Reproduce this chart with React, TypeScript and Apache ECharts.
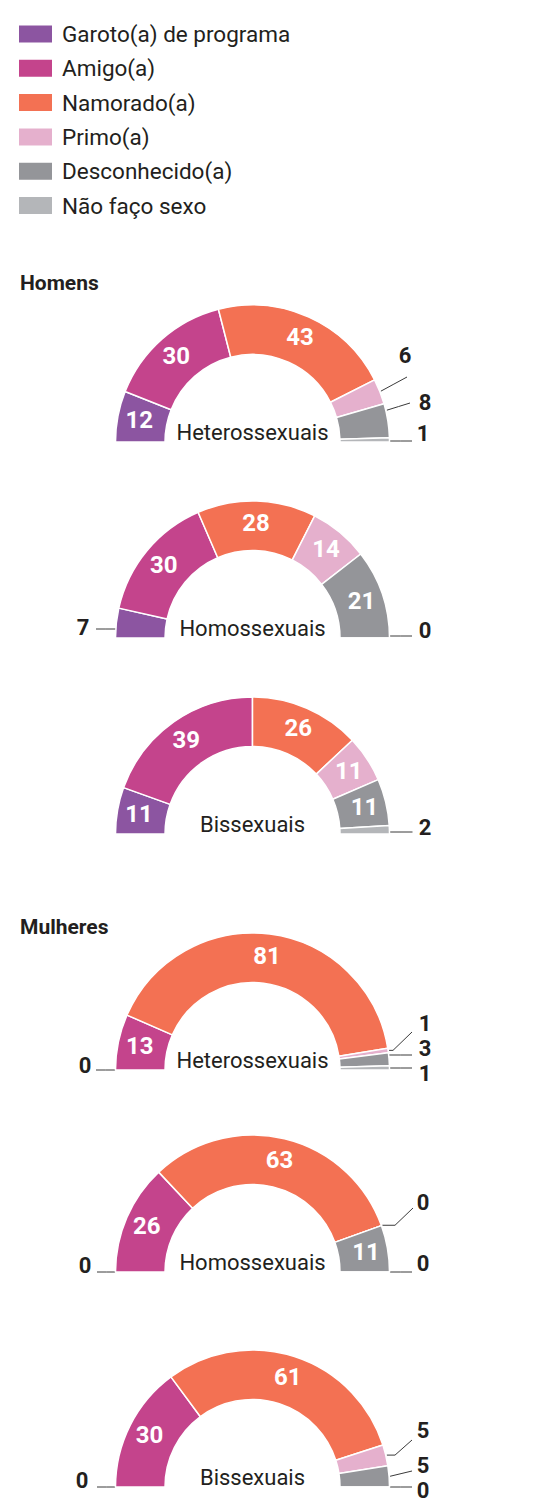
import React, { useEffect, useRef } from "react";
import * as echarts from "echarts";

// ---------- data ----------
const categories = [
  "Garoto(a) de programa",
  "Amigo(a)",
  "Namorado(a)",
  "Primo(a)",
  "Desconhecido(a)",
  "Não faço sexo",
];
const groupTitles = ["Homens", "Mulheres"];
const orientationLabels = ["Heterossexuais", "Homossexuais", "Bissexuais"];

const menHetero = [12, 30, 43, 6, 8, 1];
const menHomo = [7, 30, 28, 14, 21, 0];
const menBi = [11, 39, 26, 11, 11, 2];
const womenHetero = [0, 13, 81, 1, 3, 1];
const womenHomo = [0, 26, 63, 0, 11, 0];
const womenBi = [0, 30, 61, 5, 5, 0];

const chartValues = [menHetero, menHomo, menBi, womenHetero, womenHomo, womenBi];
const chartOrientation = [0, 1, 2, 0, 1, 2];

// ---------- styles / layout ----------
const colors = ["#8C55A1", "#C4448C", "#F37153", "#E5B0CD", "#949599", "#B4B6B9"];
const INK = "#231f20";
const FONT = "Roboto, 'Noto Sans', sans-serif";
const W = 546;
const H = 1507;
const CX = 252.5;
const R_OUT = 137;
const R_IN = 87.5;
const baselines = [442, 638, 834, 1070, 1272, 1487];
const titleY = [283, 926.5];
const INSIDE_MIN = 10;

type Lay = { kind: "h" | "d"; lx: number; ly: number; ex: number; ey: number; kx?: number; at?: number };
const outsideLayout: Record<number, Lay>[] = [
  {
    3: { kind: "d", lx: 152.5, ly: -87, ex: 154.5, ey: -65 },
    4: { kind: "d", lx: 172.5, ly: -40, ex: 157.5, ey: -39, at: 0.2 },
    5: { kind: "h", lx: 170.5, ly: -9, ex: 159.5, ey: -1 },
  },
  {
    0: { kind: "h", lx: -169.5, ly: -11, ex: -156.5, ey: -9 },
    5: { kind: "h", lx: 172.5, ly: -8, ex: 159.5, ey: -2 },
  },
  {
    5: { kind: "h", lx: 172.5, ly: -7, ex: 160, ey: -2 },
  },
  {
    0: { kind: "h", lx: -167.5, ly: -5, ex: -156.5, ey: 0 },
    3: { kind: "d", lx: 172.5, ly: -47, ex: 159.5, ey: -38, kx: 140.5 },
    4: { kind: "h", lx: 172.5, ly: -22, ex: 159.5, ey: -15 },
    5: { kind: "h", lx: 172.5, ly: 3, ex: 159.5, ey: -2 },
  },
  {
    0: { kind: "h", lx: -167.5, ly: -7, ex: -155.5, ey: 0 },
    3: { kind: "d", lx: 170.5, ly: -70, ex: 160.5, ey: -64, kx: 142.5 },
    5: { kind: "h", lx: 170.5, ly: -9, ex: 159.5, ey: 0 },
  },
  {
    0: { kind: "h", lx: -170.5, ly: -7, ex: -155.5, ey: 0 },
    3: { kind: "d", lx: 170.5, ly: -57, ex: 159.5, ey: -47, kx: 142.5 },
    4: { kind: "d", lx: 170.5, ly: -22, ex: 159.5, ey: -16 },
    5: { kind: "h", lx: 170.5, ly: 3, ex: 159.5, ey: 0 },
  },
];

function angleAt(vals: number[], c: number) {
  const s = vals.reduce((a, b) => a + b, 0);
  return Math.PI - (c / s) * Math.PI;
}

function leaderPoints(ci: number, di: number, lay: Lay): number[][] {
  const B = baselines[ci];
  const vals = chartValues[ci];
  const end = [CX + lay.ex, B + lay.ey];
  if (lay.kind === "h") {
    const y = B + lay.ey;
    const dx = Math.sqrt(Math.max(0, R_OUT * R_OUT - lay.ey * lay.ey));
    const sx = CX + Math.sign(lay.ex) * dx;
    return [[sx, y], [(sx + end[0]) / 2, y], end];
  }
  let c0 = 0;
  for (let k = 0; k < di; k++) c0 += vals[k];
  const c1 = c0 + vals[di];
  const a0 = angleAt(vals, c0);
  const a1 = angleAt(vals, c1);
  const a = a0 + (a1 - a0) * (lay.at ?? 0.5);
  const r = R_OUT + 1;
  const start = [CX + r * Math.cos(a), B - r * Math.sin(a)];
  const mid = lay.kx !== undefined ? [CX + lay.kx, start[1]] : [(start[0] + end[0]) / 2, (start[1] + end[1]) / 2];
  return [start, mid, end];
}

function buildSeries(ci: number) {
  const vals = chartValues[ci];
  return {
    type: "pie",
    name: orientationLabels[chartOrientation[ci]] + ci,
    center: [CX, baselines[ci]],
    radius: [R_IN, R_OUT],
    startAngle: 180,
    endAngle: 0,
    clockwise: true,
    avoidLabelOverlap: false,
    silent: true,
    emphasis: { disabled: true },
    itemStyle: { borderColor: "#ffffff", borderWidth: 1.5 },
    label: { show: true, formatter: "{c}", fontFamily: FONT, fontSize: 24, fontWeight: "bold", lineHeight: 18 },
    labelLine: { show: false },
    labelLayout: (p: any) => {
      const lay = outsideLayout[ci][p.dataIndex];
      if (!lay) return {};
      const B = baselines[ci];
      return {
        x: CX + lay.lx,
        y: B + lay.ly,
        align: "center",
        verticalAlign: "middle",
        labelLinePoints: leaderPoints(ci, p.dataIndex, lay),
      };
    },
    data: categories.map((name, i) => {
      const v = vals[i];
      const inside = v >= INSIDE_MIN;
      return {
        name,
        value: v,
        itemStyle: { color: colors[i] },
        label: inside
          ? { position: "inside", color: "#ffffff" }
          : { position: "outside", color: INK, fontSize: 22, lineHeight: 18 },
        labelLine: inside
          ? { show: false }
          : { show: true, smooth: false, lineStyle: { color: "#3a3a3a", width: 1 } },
      };
    }),
  };
}

export default function App() {
  const ref = useRef<HTMLDivElement>(null);
  useEffect(() => {
    if (!ref.current) return;
    const chart = echarts.init(ref.current, null, { renderer: "svg" });
    const option: any = {
      animation: false,
      backgroundColor: "#ffffff",
      textStyle: { fontFamily: FONT },
      legend: {
        orient: "vertical",
        left: 17,
        top: 22.5,
        padding: 0,
        itemWidth: 35,
        itemHeight: 19,
        itemGap: 11.3,
        icon: "rect",
        selectedMode: false,
        data: categories,
        textStyle: { fontSize: 22.5, fontFamily: FONT, color: INK, padding: [0, 0, 0, 4] },
      },
      graphic: [
        ...groupTitles.map((t, i) => ({
          type: "text",
          x: 20,
          y: titleY[i],
          style: { text: t, fill: INK, font: `bold 21px ${FONT}`, verticalAlign: "middle" },
        })),
        ...chartValues.map((_, i) => ({
          type: "text",
          x: CX,
          y: baselines[i] - 9.5,
          style: {
            text: orientationLabels[chartOrientation[i]],
            fill: INK,
            font: `22px ${FONT}`,
            align: "center",
            verticalAlign: "middle",
          },
        })),
      ],
      series: chartValues.map((_, i) => buildSeries(i)),
    };
    chart.setOption(option);
    return () => chart.dispose();
  }, []);
  return (
    <div
      ref={ref}
      style={{ position: "absolute", left: 0, top: 0, width: W, height: H }}
    />
  );
}
